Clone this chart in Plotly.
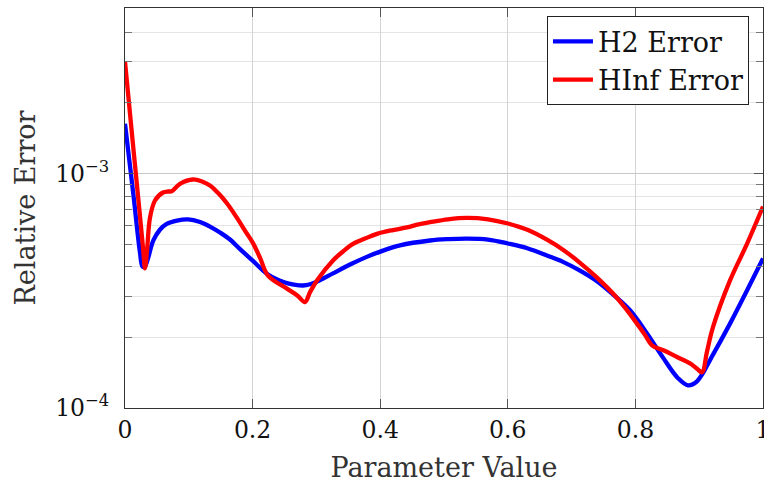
import plotly.graph_objects as go

# ---------------- data ----------------
param_h2 = [0.0, 0.013, 0.0235, 0.0275, 0.031, 0.036, 0.0444, 0.055, 0.0654, 0.0815,
            0.0987, 0.1176, 0.1332, 0.149, 0.1646, 0.1803, 0.2006, 0.2241, 0.2508, 0.265,
            0.279, 0.29, 0.3009, 0.326, 0.3527, 0.378, 0.4044, 0.431, 0.4781, 0.5063,
            0.536, 0.569, 0.6003, 0.6317, 0.6614, 0.6865, 0.7132, 0.7398, 0.766, 0.7915,
            0.8182, 0.8433, 0.8668, 0.8824, 0.8966, 0.9216, 0.9483, 0.9749, 1.0]
err_h2 = [1.63e-3, 8.19e-4, 4.60e-4, 4.01e-4, 4.01e-4, 4.34e-4, 5.18e-4, 5.77e-4, 6.10e-4, 6.30e-4,
          6.37e-4, 6.21e-4, 5.94e-4, 5.60e-4, 5.23e-4, 4.76e-4, 4.24e-4, 3.71e-4, 3.43e-4, 3.36e-4,
          3.33e-4, 3.37e-4, 3.46e-4, 3.75e-4, 4.09e-4, 4.40e-4, 4.69e-4, 4.94e-4, 5.18e-4, 5.25e-4,
          5.28e-4, 5.23e-4, 5.03e-4, 4.79e-4, 4.47e-4, 4.20e-4, 3.85e-4, 3.47e-4, 3.03e-4, 2.61e-4,
          2.08e-4, 1.64e-4, 1.34e-4, 1.25e-4, 1.30e-4, 1.69e-4, 2.29e-4, 3.17e-4, 4.34e-4]

param_hinf = [0.0, 0.012, 0.022, 0.0285, 0.0313, 0.0345, 0.0392, 0.047, 0.0596, 0.068,
              0.0732, 0.0862, 0.1066, 0.1207, 0.1332, 0.146, 0.16, 0.175, 0.19, 0.2006,
              0.212, 0.2241, 0.2539, 0.27, 0.2821, 0.29, 0.3009, 0.326, 0.3417, 0.3574,
              0.3762, 0.395, 0.42, 0.442, 0.46, 0.4781, 0.5063, 0.536, 0.569, 0.6003,
              0.6317, 0.6614, 0.6881, 0.7132, 0.7398, 0.7649, 0.7837, 0.8025, 0.815, 0.826,
              0.8448, 0.8652, 0.8856, 0.8967, 0.9044, 0.912, 0.9216, 0.9483, 0.9749, 1.0]
err_hinf = [3.00e-3, 1.373e-3, 7.23e-4, 4.74e-4, 3.94e-4, 4.69e-4, 6.49e-4, 7.67e-4, 8.30e-4, 8.38e-4,
            8.40e-4, 9.04e-4, 9.43e-4, 9.25e-4, 8.89e-4, 8.25e-4, 7.45e-4, 6.50e-4, 5.60e-4, 5.05e-4,
            4.35e-4, 3.67e-4, 3.23e-4, 3.02e-4, 2.83e-4, 3.12e-4, 3.50e-4, 4.26e-4, 4.65e-4, 5.01e-4,
            5.28e-4, 5.53e-4, 5.74e-4, 5.89e-4, 6.07e-4, 6.20e-4, 6.38e-4, 6.47e-4, 6.38e-4, 6.12e-4,
            5.74e-4, 5.22e-4, 4.70e-4, 4.16e-4, 3.60e-4, 3.08e-4, 2.68e-4, 2.29e-4, 2.05e-4, 1.85e-4,
            1.76e-4, 1.65e-4, 1.55e-4, 1.47e-4, 1.42e-4, 1.73e-4, 2.21e-4, 3.50e-4, 5.01e-4, 7.23e-4]

x_tick_vals = [0, 0.2, 0.4, 0.6, 0.8, 1]
x_tick_text = ["0", "0.2", "0.4", "0.6", "0.8", "1"]
y_tick_vals = [1e-4, 1e-3]
y_tick_text = ["10<sup>\u22124</sup>", "10<sup>\u22123</sup>"]
y_minor_vals = [2e-4, 3e-4, 4e-4, 5e-4, 6e-4, 7e-4, 8e-4, 9e-4, 2e-3, 3e-3, 4e-3]

FONT = "DejaVu Serif"

fig = go.Figure()
fig.add_trace(go.Scatter(x=param_h2, y=err_h2, mode="lines", name="H2 Error",
                         line=dict(color="#0000ff", width=4.3, shape="spline", smoothing=1.0)))
fig.add_trace(go.Scatter(x=param_hinf, y=err_hinf, mode="lines", name="HInf Error",
                         line=dict(color="#ff0000", width=4.3, shape="spline", smoothing=1.0)))

fig.update_layout(
    width=764, height=483,
    margin=dict(l=125, r=1, t=8, b=75, autoexpand=False),
    paper_bgcolor="white", plot_bgcolor="white",
    font=dict(family=FONT, color="#111111"),
    showlegend=True,
    legend=dict(x=0.978, xanchor="right", y=0.979, yanchor="top",
                bgcolor="white", bordercolor="#222222", borderwidth=1,
                font=dict(family=FONT, size=27, color="#111111"),
                tracegroupgap=0, itemwidth=40),
)

fig.update_xaxes(
    range=[0, 1], tickvals=x_tick_vals, ticktext=x_tick_text,
    tickfont=dict(family=FONT, size=23.5, color="#111111"),
    ticks="inside", ticklen=9, tickcolor="#555555", tickwidth=1,
    showline=True, linecolor="#333333", linewidth=1, mirror="allticks",
    showgrid=True, gridcolor="#d4d4d4", gridwidth=1, zeroline=False,
    ticklabelstandoff=1, ticklabeloverflow="allow",
    title=dict(text="Parameter Value", font=dict(family=FONT, size=27, color="#333333"), standoff=21),
)
fig.update_yaxes(
    type="log", range=[-4, -2.2942], tickvals=y_tick_vals, ticktext=y_tick_text,
    tickfont=dict(family=FONT, size=23.5, color="#111111"),
    ticks="inside", ticklen=9, tickcolor="#555555", tickwidth=1,
    showline=True, linecolor="#333333", linewidth=1, mirror="allticks",
    showgrid=True, gridcolor="#c8c8c8", gridwidth=1.3, zeroline=False,
    ticklabelstandoff=10, ticklabeloverflow="allow",
    minor=dict(tickvals=y_minor_vals, ticks="inside", ticklen=7, tickcolor="#777777",
               showgrid=True, gridcolor="#e4e4e4", gridwidth=1),
    title=dict(text="Relative Error", font=dict(family=FONT, size=27, color="#333333"), standoff=11),
)

fig.write_html("out.html")
